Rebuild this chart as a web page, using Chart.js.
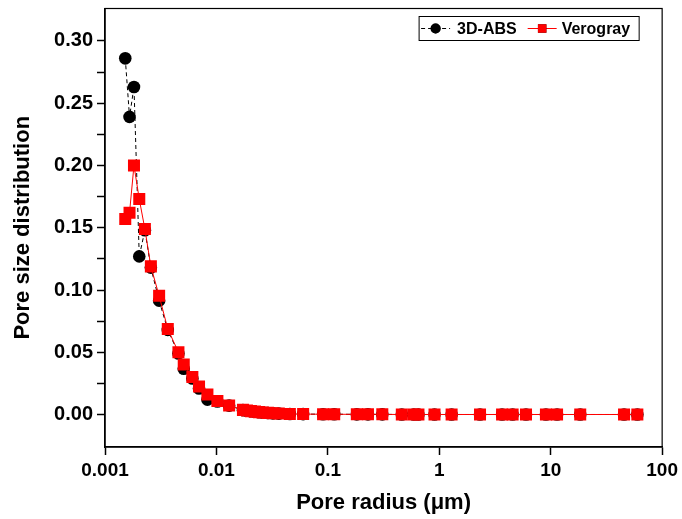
<!DOCTYPE html>
<html>
<head>
<meta charset="utf-8">
<script src="https://cdn.jsdelivr.net/npm/chart.js@4.4.1/dist/chart.umd.min.js"></script>
<style>
  body { margin: 0; background: #fff; }
</style>
</head>
<body>
<canvas id="poreChart" width="682" height="519"></canvas>
<script>
// pore radius (um), shared by both samples
const poreRadius = [0.00152, 0.00166, 0.00182, 0.00203, 0.00228, 0.00258, 0.00306, 0.00366, 0.00456, 0.00509,
  0.00608, 0.00698, 0.0083, 0.0102, 0.0130, 0.0173, 0.0188, 0.0204, 0.0222, 0.0241,
  0.0261, 0.0290, 0.0321, 0.0363, 0.0456, 0.0600, 0.0906, 0.114, 0.182, 0.229,
  0.308, 0.461, 0.590, 0.650, 0.906, 1.29, 2.32, 3.66, 4.55, 6.0,
  9.06, 11.4, 18.4, 45.5, 59.9];

const absValues = [0.286, 0.239, 0.263, 0.127, 0.148, 0.118, 0.0915, 0.068, 0.049, 0.0368,
  0.029, 0.021, 0.012, 0.0105, 0.0072, 0.0036, 0.0031, 0.0027, 0.0023, 0.0019,
  0.0016, 0.0013, 0.0010, 0.0008, 0.0005, 0.0004, 0.0003, 0.0003, 0.0002, 0.0002,
  0.0002, 0.0001, 0.0001, 0.0001, 0.0001, 0.0001, 0.0001, 0.0001, 0.0001, 0.0001,
  0.0001, 0.0001, 0.0001, 0.0001, 0.0001];

const verograyValues = [0.157, 0.162, 0.200, 0.173, 0.149, 0.119, 0.0954, 0.0688, 0.0501, 0.0402,
  0.0301, 0.0226, 0.0162, 0.0109, 0.0074, 0.0038, 0.0033, 0.0028, 0.0024, 0.0020,
  0.0017, 0.0014, 0.0011, 0.0008, 0.0005, 0.0004, 0.0003, 0.0003, 0.0002, 0.0002,
  0.0002, 0.0001, 0.0001, 0.0001, 0.0001, 0.0001, 0.0001, 0.0001, 0.0001, 0.0001,
  0.0001, 0.0001, 0.0001, 0.0001, 0.0001];

const xTicks = [0.001, 0.01, 0.1, 1, 10, 100];
const xTickLabels = ['0.001', '0.01', '0.1', '1', '10', '100'];
const yTicks = [0, 0.025, 0.05, 0.075, 0.10, 0.125, 0.15, 0.175, 0.20, 0.225, 0.25, 0.275, 0.30];
const yTickLabels = ['0.00', '', '0.05', '', '0.10', '', '0.15', '', '0.20', '', '0.25', '', '0.30'];

const FONT = '"Liberation Sans", Arial, Helvetica, sans-serif';

const toPoints = vals => poreRadius.map((r, i) => ({ x: r, y: vals[i] }));

// frame on top/right plus the boxed legend in the corner
const framePlugin = {
  id: 'frame',
  afterDraw(chart) {
    const { ctx, chartArea: a } = chart;
    ctx.save();
    ctx.strokeStyle = '#000';
    ctx.lineWidth = 1.2;
    ctx.strokeRect(a.left, a.top, a.right - a.left, a.bottom - a.top);

    ctx.font = 'bold 16px ' + FONT;
    ctx.textBaseline = 'middle';
    const items = chart.data.datasets.map(ds => ({ ds, w: ctx.measureText(ds.label).width }));
    const seg = 29;
    const boxW = 2 + seg + 7 + items[0].w + 11 + seg + 5 + items[1].w + 9;
    const boxH = 24;
    const left = a.right - 23 - boxW;
    const top = a.top + 8;
    ctx.lineWidth = 1;
    ctx.strokeRect(left, top, boxW, boxH);
    const cy = top + boxH / 2;
    let x = left + 2;
    items.forEach((it, i) => {
      const ds = it.ds;
      ctx.strokeStyle = ds.borderColor;
      ctx.setLineDash(ds.borderDash || []);
      ctx.beginPath();
      ctx.moveTo(x, cy);
      ctx.lineTo(x + seg, cy);
      ctx.stroke();
      ctx.setLineDash([]);
      Chart.helpers.drawPoint(ctx, { pointStyle: ds.pointStyle, radius: ds.pointStyle === 'rect' ? 6 : 5, rotation: 0, borderWidth: 0 }, x + seg / 2, cy);
      ctx.fillStyle = ds.pointBackgroundColor;
      ctx.fill();
      ctx.fillStyle = '#000';
      const tx = x + seg + (i === 0 ? 7 : 5);
      ctx.fillText(ds.label, tx, cy + 1);
      x = tx + it.w + 11;
    });
    ctx.restore();
  }
};

new Chart(document.getElementById('poreChart'), {
  type: 'line',
  data: {
    datasets: [{
      label: '3D-ABS',
      data: toPoints(absValues),
      borderColor: '#000',
      borderWidth: 1,
      borderDash: [4, 3],
      pointStyle: 'circle',
      pointRadius: 6.3,
      pointBackgroundColor: '#000',
      pointBorderColor: '#000',
      pointBorderWidth: 0,
      order: 2
    }, {
      label: 'Verogray',
      data: toPoints(verograyValues),
      borderColor: '#ff0000',
      borderWidth: 1,
      pointStyle: 'rect',
      pointRadius: 8.5,
      pointBackgroundColor: '#ff0000',
      pointBorderColor: '#ff0000',
      pointBorderWidth: 0,
      order: 1
    }]
  },
  options: {
    responsive: false,
    animation: false,
    layout: { padding: { left: 0, right: 19, top: 7, bottom: 0 } },
    plugins: { legend: { display: false }, tooltip: { enabled: false } },
    scales: {
      x: {
        type: 'logarithmic',
        min: 0.001,
        max: 100,
        afterBuildTicks: s => { s.ticks = xTicks.map(v => ({ value: v })); },
        afterFit: s => { s.height = 72; },
        ticks: {
          callback: (v, i) => xTickLabels[i],
          autoSkip: false,
          maxRotation: 0,
          color: '#000',
          padding: 4,
          font: { family: FONT, size: 19, weight: 'bold' }
        },
        grid: { drawOnChartArea: false, tickLength: 8, tickWidth: 1.5, tickColor: '#000' },
        border: { color: '#000', width: 1.5 },
        title: {
          display: true,
          text: 'Pore radius (μm)',
          color: '#000',
          padding: { top: 4, bottom: 3 },
          font: { family: FONT, size: 22, weight: 'bold' }
        }
      },
      y: {
        min: -0.026,
        max: 0.326,
        afterBuildTicks: s => { s.ticks = yTicks.map(v => ({ value: v })); },
        afterFit: s => { s.width = 105; s.paddingTop = 0; s.paddingBottom = 0; },
        ticks: {
          callback: (v, i) => yTickLabels[i],
          autoSkip: false,
          color: '#000',
          padding: 4,
          font: { family: FONT, size: 20, weight: 'bold' }
        },
        grid: { drawOnChartArea: false, tickLength: 8, tickWidth: 1.5, tickColor: '#000' },
        border: { color: '#000', width: 1.5 },
        title: {
          display: true,
          text: 'Pore size distribution',
          color: '#000',
          padding: { top: 10, bottom: 0 },
          font: { family: FONT, size: 22, weight: 'bold' }
        }
      }
    }
  },
  plugins: [framePlugin]
});
</script>
</body>
</html>
